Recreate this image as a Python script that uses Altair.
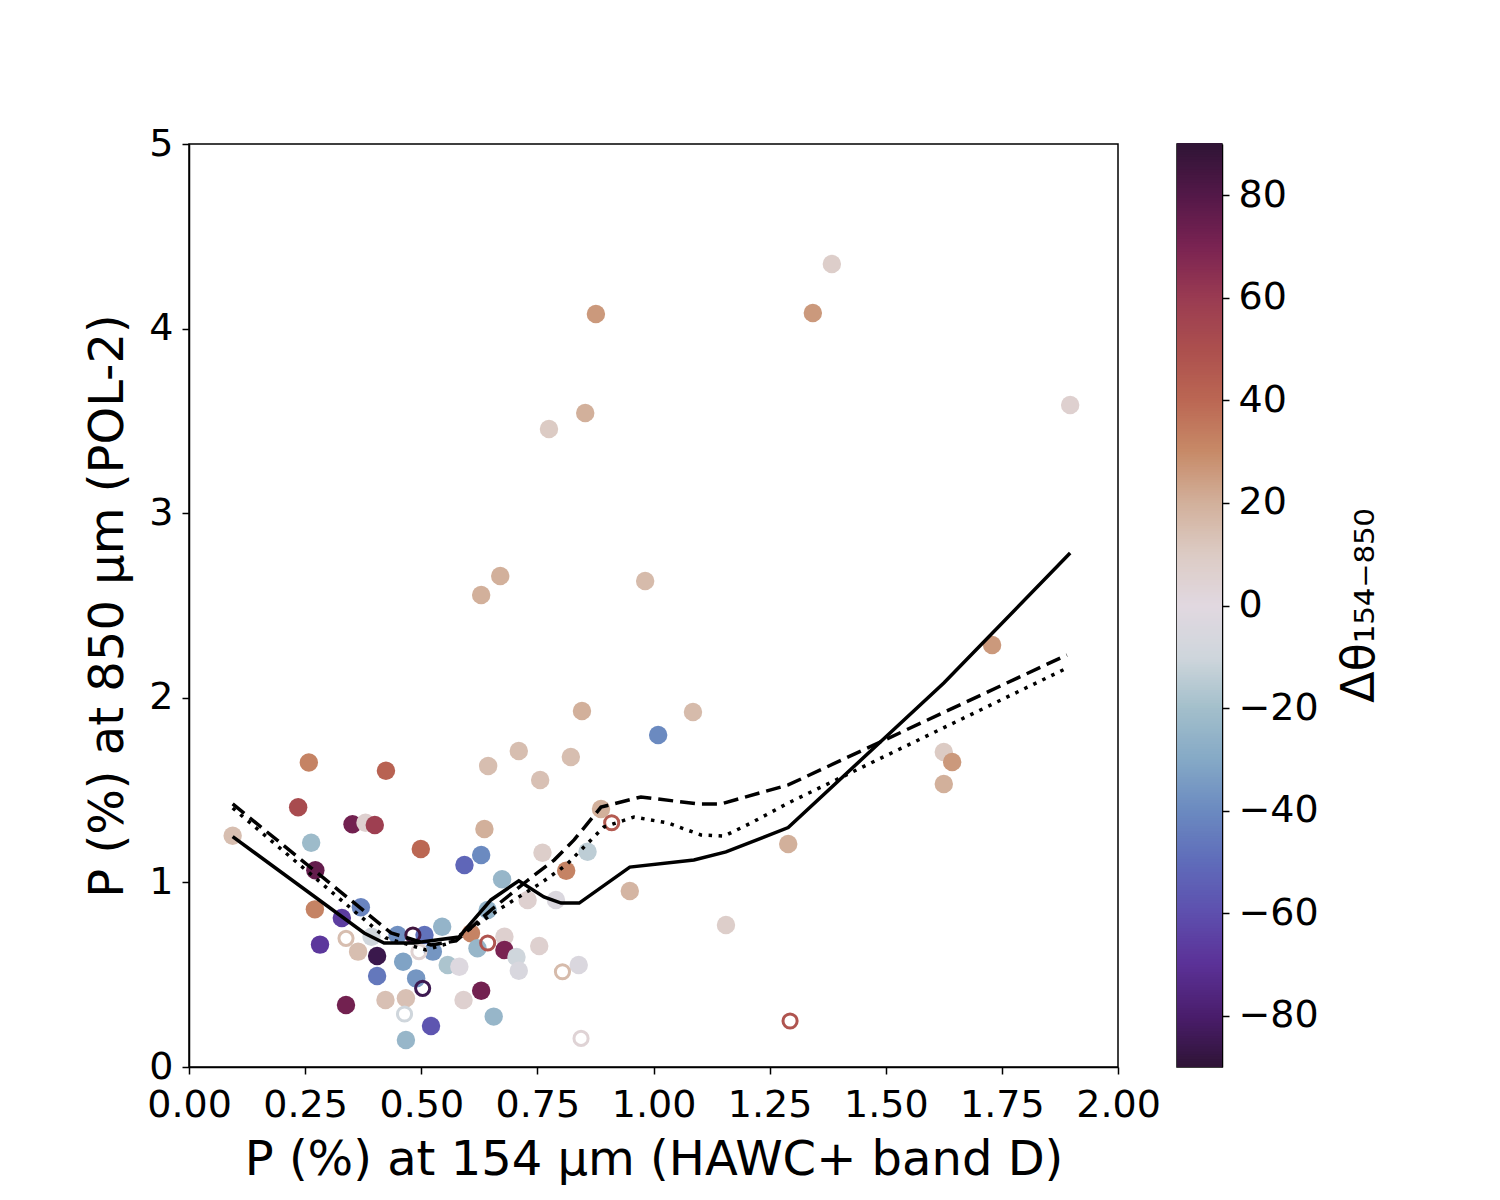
import altair as alt
import pandas as pd

# ---- filled points: P154, P850, delta theta ----
fx = [0.258, 0.424, 0.235, 0.352, 0.380, 0.400, 0.094, 0.263, 0.272, 0.271,
      0.370, 0.329, 0.393, 0.282, 0.364, 0.405, 0.449, 0.507, 0.545, 0.607,
      0.525, 0.621, 0.679, 0.679, 0.557, 0.582, 0.461, 0.405, 0.489, 0.423,
      0.467, 0.629, 0.591, 0.338, 0.521, 0.656, 0.467, 0.705, 0.710, 0.839,
      0.636, 0.499, 0.629, 0.593, 0.761, 0.812, 0.858, 0.674, 0.729, 0.790,
      0.643, 0.754, 0.876, 1.384, 1.343, 1.897, 0.775, 0.853, 0.670, 0.629,
      0.982, 1.729, 0.846, 1.085, 1.010, 0.710, 0.822, 0.644, 0.756, 1.625,
      1.643, 1.625, 0.887, 1.290, 0.949, 1.156]
fy = [1.649, 1.605, 1.407, 1.315, 1.323, 1.311, 1.253, 1.215, 1.066, 0.854,
      0.865, 0.807, 0.706, 0.663, 0.625, 0.601, 0.715, 0.715, 0.760, 0.724,
      0.625, 0.643, 0.706, 0.634, 0.553, 0.543, 0.570, 0.493, 0.480, 0.363,
      0.372, 0.413, 0.363, 0.336, 0.222, 0.273, 0.146, 0.596, 0.521, 0.553,
      1.289, 1.181, 1.148, 1.094, 1.161, 1.063, 1.166, 1.017, 0.905, 0.905,
      0.850, 0.655, 4.079, 4.350, 4.085, 3.586, 3.456, 3.543, 2.660, 2.557,
      2.633, 2.286, 1.928, 1.923, 1.798, 1.712, 1.679, 1.631, 1.555, 1.706,
      1.652, 1.533, 1.398, 1.208, 0.953, 0.769]
fd = [32, 42, 52, 72, 6, 58, 15, -22, 76, 32,
      -42, -66, -10, -68, 15, -86, -38, -48, -25, 32,
      -36, -24, 6, 70, -18, -2, -32, -46, -36, 14,
      14, 72, 6, 72, -58, -24, -24, -10, -5, -4,
      20, 40, -40, -52, 8, 32, -14, -24, 6, -4,
      -26, 6, 26, 8, 26, 6, 10, 20, 20, 20,
      16, 26, 20, 16, -40, 15, 15, 15, 14, 10,
      26, 20, 20, 20, 18, 8]

# ---- open points ----
ox = [0.338, 0.482, 0.495, 0.643, 0.503, 0.464, 0.804, 0.844, 0.910, 1.294]
oy = [0.697, 0.715, 0.625, 0.672, 0.426, 0.287, 0.516, 0.155, 1.323, 0.249]
od = [15, 85, 5, 48, -85, -10, 16, 4, 45, 48]

# ---- running curves ----
sx = [0.094, 0.377, 0.420, 0.484, 0.581, 0.650, 0.710, 0.764, 0.801, 0.840,
      0.949, 1.087, 1.156, 1.290, 1.625, 1.897]
sy = [1.248, 0.726, 0.672, 0.672, 0.704, 0.905, 1.009, 0.921, 0.888, 0.888,
      1.083, 1.121, 1.165, 1.297, 2.080, 2.784]

dx = [0.094, 0.435, 0.521, 0.575, 0.650, 0.730, 0.786, 0.829, 0.887, 0.973,
      1.096, 1.145, 1.290, 1.890]
dy = [1.425, 0.726, 0.661, 0.683, 0.850, 1.013, 1.121, 1.230, 1.408, 1.463,
      1.425, 1.425, 1.528, 2.232]

tx = [0.094, 0.424, 0.510, 0.553, 0.629, 0.672, 0.758, 0.812, 0.861, 0.893,
      0.958, 1.031, 1.102, 1.152, 1.210, 1.290, 1.895]
ty = [1.403, 0.699, 0.634, 0.666, 0.786, 0.861, 0.997, 1.094, 1.219, 1.300,
      1.354, 1.322, 1.257, 1.251, 1.322, 1.430, 2.167]

# ---- colour map (twilight_shifted-like) ----
cmap_domain = list(range(-90, 91, 10))
cmap_range = ["#2f1436", "#4a1d6c", "#5b3197", "#5e4fae", "#5f6cba", "#6b8ac0",
              "#85a9c6", "#a3bfcb", "#cfd6dc", "#e1d8e0", "#dccbc4", "#d2b09b",
              "#c78a68", "#bb6753", "#ac4f4e", "#9a3b52", "#7a2352", "#531848",
              "#2f1436"]

x_ticks = [0.0, 0.25, 0.5, 0.75, 1.0, 1.25, 1.5, 1.75, 2.0]
y_ticks = [0, 1, 2, 3, 4, 5]
cb_ticks = [-80, -60, -40, -20, 0, 20, 40, 60, 80]
cb_title = "Δθ₁₅₄₋₈₅₀"

FONT = "DejaVu Sans"
W, H = 929, 923

cscale = alt.Scale(domain=cmap_domain, range=cmap_range, interpolate="rgb")

df_f = pd.DataFrame({"x": fx, "y": fy, "d": fd})
df_o = pd.DataFrame({"x": ox, "y": oy, "d": od})
df_s = pd.DataFrame({"x": sx, "y": sy, "i": range(len(sx))})
df_d = pd.DataFrame({"x": dx, "y": dy, "i": range(len(dx))})
df_t = pd.DataFrame({"x": tx, "y": ty, "i": range(len(tx))})

X = alt.X("x:Q", scale=alt.Scale(domain=[0, 2], nice=False, zero=False),
          axis=alt.Axis(values=x_ticks, format=".2f",
                        title="P (%) at 154 μm (HAWC+ band D)",
                        labelFlush=False, labelOverlap=False,
                        labelPadding=12, titlePadding=12))
Y = alt.Y("y:Q", scale=alt.Scale(domain=[0, 5], nice=False, zero=False),
          axis=alt.Axis(values=y_ticks, format="d",
                        title="P (%) at 850 μm (POL-2)",
                        labelOverlap=False, labelPadding=9, titlePadding=16))

filled = alt.Chart(df_f).mark_circle(size=340, opacity=1).encode(
    x=X, y=Y, color=alt.Color("d:Q", scale=cscale, legend=None))

opened = alt.Chart(df_o).mark_point(shape="circle", size=200, strokeWidth=3,
                                    filled=False, opacity=1).encode(
    x="x:Q", y="y:Q", color=alt.Color("d:Q", scale=cscale, legend=None))

solid = alt.Chart(df_s).mark_line(color="black", strokeWidth=3.5).encode(
    x="x:Q", y="y:Q", order="i:Q")
dashed = alt.Chart(df_d).mark_line(color="black", strokeWidth=3.5,
                                   strokeDash=[15, 7]).encode(
    x="x:Q", y="y:Q", order="i:Q")
dotted = alt.Chart(df_t).mark_line(color="black", strokeWidth=3.5,
                                   strokeDash=[3.5, 6.5]).encode(
    x="x:Q", y="y:Q", order="i:Q")

main = alt.layer(filled, opened, solid, dashed, dotted).properties(width=W, height=H)

# ---- colorbar ----
cb_v = [v * 0.5 for v in range(-180, 180)]
df_cb = pd.DataFrame({"v": cb_v, "v2": [v + 0.7 for v in cb_v],
                      "c": [v + 0.25 for v in cb_v]})
cb_rects = alt.Chart(df_cb).mark_rect(strokeWidth=0).encode(
    x=alt.value(0), x2=alt.value(45),
    y=alt.Y("v:Q", scale=alt.Scale(domain=[-90, 90], nice=False, zero=False),
            axis=alt.Axis(orient="right", values=cb_ticks, format="d",
                          title=None, labelPadding=9, labelOverlap=False)),
    y2="v2:Q",
    color=alt.Color("c:Q", scale=cscale, legend=None),
)
cb_text = alt.Chart(pd.DataFrame({"t": [cb_title]})).mark_text(
    angle=270, font=FONT, fontSize=46, align="center", baseline="middle",
    color="black"
).encode(x=alt.value(183), y=alt.value(H / 2), text="t:N")

colorbar = alt.layer(cb_rects, cb_text).properties(width=45, height=H)

chart = alt.hconcat(main, colorbar, spacing=14).properties(
    padding={"left": 76, "top": 116, "right": 10, "bottom": 10}
).configure_view(
    stroke="black", strokeWidth=1.5
).configure_axis(
    grid=False, domainColor="black", domainWidth=1.5,
    tickColor="black", tickWidth=1.5, tickSize=7,
    labelFont=FONT, labelFontSize=38, labelColor="black",
    titleFont=FONT, titleFontSize=48, titleFontWeight="normal", titleColor="black"
)

chart.save("out.html", embed_options={"renderer": "svg", "actions": False})
